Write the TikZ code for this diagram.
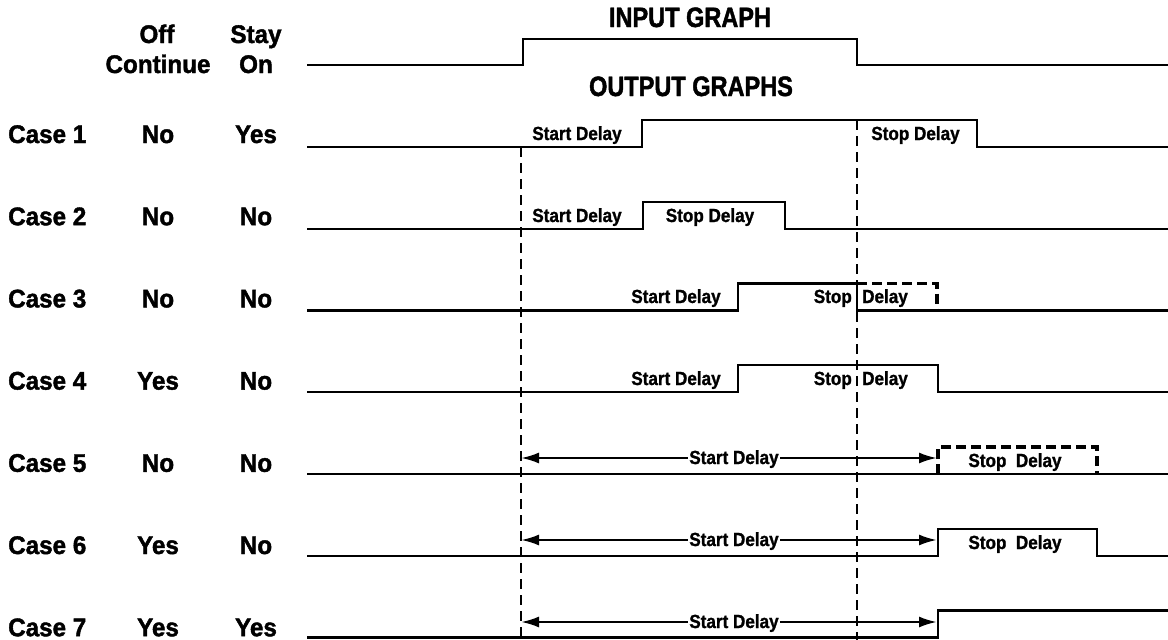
\documentclass[tikz,border=0pt]{standalone}
\usepackage{fontspec}
\setmainfont{Liberation Sans}
\newfontfamily\hdfont{Liberation Sans}[FakeStretch=0.84,FakeBold=1.6]
\newfontfamily\rwfont{Liberation Sans}[FakeStretch=0.95,FakeBold=1.6]
\newfontfamily\smfont{Liberation Sans}[FakeStretch=0.9,FakeBold=1.2]
\usetikzlibrary{arrows.meta}
\tikzset{
  hd/.style={font=\hdfont\bfseries\fontsize{28}{30}\selectfont, inner sep=0pt, anchor=base},
  rw/.style={font=\rwfont\bfseries\fontsize{25.5}{27}\selectfont, inner sep=0pt, anchor=base},
  sm/.style={font=\smfont\bfseries\fontsize{19}{20}\selectfont, inner sep=0pt, anchor=base},
  sig/.style={line width=2.4pt, line join=miter, line cap=butt},
  gridln/.style={line width=2pt, dash pattern=on 10pt off 6pt},
  ghost/.style={line width=3.2pt, dash pattern=on 10pt off 5pt},
  span/.style={line width=2.4pt, -{Latex[length=18pt,width=11pt]}},
}
\begin{document}
\begin{tikzpicture}[x=1pt,y=-1pt]
\useasboundingbox (0,0) rectangle (1168,640);
% header
\node[rw] (hoff) at (157,43) {Off};
\node[rw] (hcont) at (158,73) {Continue};
\node[rw] (hstay) at (256,43) {Stay};
\node[rw] (hon) at (256,73) {On};
\node[hd] (tin) at (690,27) {INPUT GRAPH};
\node[hd] (tout) at (691,96) {OUTPUT GRAPHS};
% input graph
\draw[sig] (307,65) -- (523,65) -- (523,39) -- (857,39) -- (857,65) -- (1168,65);
% row labels
\foreach \k/\a/\b in {0/No/Yes,1/No/No,2/No/No,3/Yes/No,4/No/No,5/Yes/No,6/Yes/Yes}{
  \pgfmathtruncatemacro{\n}{\k+1}
  \pgfmathsetmacro{\yb}{143+82.2*\k}
  \node[rw,anchor=base west] (case\n) at (8,\yb) {Case \n};
  \node[rw] (oc\n) at (158,\yb) {\a};
  \node[rw] (so\n) at (256,\yb) {\b};
}
% guide lines
\draw[gridln] (521,147) -- (521,640);
\draw[gridln] (857,120) -- (857,640);
% Case 1
\draw[sig] (307,147) -- (642,147) -- (642,120) -- (977,120) -- (977,147) -- (1168,147);
\node[sm] (c1a) at (577,140) {Start Delay};
\node[sm] (c1b) at (915.5,140) {Stop Delay};
% Case 2
\draw[sig] (307,228.75) -- (643,228.75) -- (643,201.75) -- (785,201.75) -- (785,228.75) -- (1168,228.75);
\node[sm] (c2a) at (577,222) {Start Delay};
\node[sm] (c2b) at (710,222) {Stop Delay};
% Case 3
\draw[sig] (307,310.5) -- (738,310.5) -- (738,283.5) -- (857,283.5) -- (857,310.5) -- (1168,310.5);
\draw[ghost] (857,283.5) -- (937,283.5) -- (937,310.5);
\node[sm] (c3a) at (676,303) {Start Delay};
\node[sm,anchor=base east] (c3b) at (852,303) {Stop};
\node[sm,anchor=base west] (c3c) at (862,303) {Delay};
% Case 4
\draw[sig] (307,392.25) -- (738,392.25) -- (738,365.25) -- (938,365.25) -- (938,392.25) -- (1168,392.25);
\node[sm] (c4a) at (676,385) {Start Delay};
\node[sm,anchor=base east] (c4b) at (852,385) {Stop};
\node[sm,anchor=base west] (c4c) at (862,385) {Delay};
% Case 5
\draw[sig] (307,474) -- (1168,474);
\draw[ghost] (938,474) -- (938,447) -- (1097,447) -- (1097,474);
\coordinate (a5l) at (521,458);
\coordinate (a5r) at (937,458);
\node[sm,inner xsep=1.5pt] (s5) at (734,464) {Start Delay};
\draw[span] (s5.west |- a5l) -- (a5l);
\draw[span] (s5.east |- a5r) -- (a5r);
\node[sm] (c5b) at (1015,467) {Stop~ Delay};
% Case 6
\draw[sig] (307,555.75) -- (938,555.75) -- (938,528.75) -- (1097,528.75) -- (1097,555.75) -- (1168,555.75);
\coordinate (a6l) at (521,540);
\coordinate (a6r) at (937,540);
\node[sm,inner xsep=1.5pt] (s6) at (734,546) {Start Delay};
\draw[span] (s6.west |- a6l) -- (a6l);
\draw[span] (s6.east |- a6r) -- (a6r);
\node[sm] (c6b) at (1015,549) {Stop~ Delay};
% Case 7
\draw[sig] (307,637.5) -- (938,637.5) -- (938,610.5) -- (1168,610.5);
\coordinate (a7l) at (521,622);
\coordinate (a7r) at (937,622);
\node[sm,inner xsep=1.5pt] (s7) at (734,628) {Start Delay};
\draw[span] (s7.west |- a7l) -- (a7l);
\draw[span] (s7.east |- a7r) -- (a7r);
\end{tikzpicture}
\end{document}
